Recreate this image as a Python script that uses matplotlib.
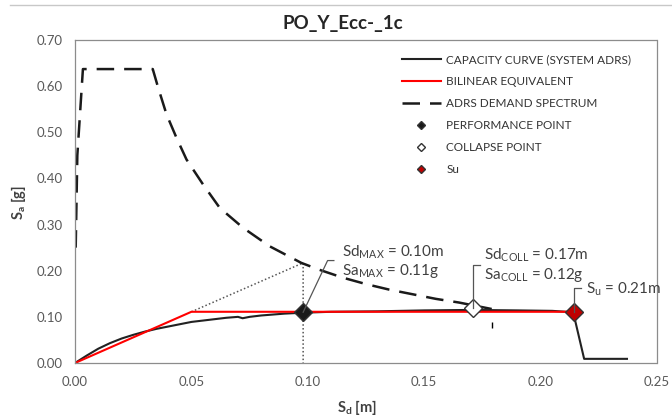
import matplotlib
matplotlib.use("Agg")
import matplotlib.pyplot as plt
from matplotlib.lines import Line2D

plt.rcParams['font.family'] = ['Lato', 'DejaVu Sans']

# capacity curve (system ADRS)
cap_sd = [0.0, 0.005, 0.01, 0.015, 0.02, 0.025, 0.03, 0.035, 0.04, 0.045, 0.05, 0.055,
          0.06, 0.065, 0.07, 0.072, 0.075, 0.08, 0.09, 0.098, 0.11, 0.13, 0.15, 0.17,
          0.19, 0.205, 0.214, 0.2187, 0.2371]
cap_sa = [0.0, 0.016, 0.031, 0.043, 0.053, 0.061, 0.068, 0.074, 0.079, 0.084, 0.089, 0.092,
          0.095, 0.098, 0.1, 0.097, 0.1, 0.103, 0.107, 0.109, 0.111, 0.112, 0.114, 0.115,
          0.114, 0.113, 0.11, 0.009, 0.009]

# bilinear equivalent
bil_sd = [0.0, 0.05, 0.214]
bil_sa = [0.0, 0.111, 0.111]

# ADRS demand spectrum
adrs_sd = [0.0003, 0.001, 0.0034, 0.0334, 0.0357, 0.0393, 0.0436, 0.0479, 0.055, 0.0622,
           0.0722, 0.0836, 0.0972, 0.105, 0.115, 0.125, 0.135, 0.145, 0.155, 0.165, 0.171, 0.179]
adrs_sa = [0.25, 0.45, 0.637, 0.637, 0.597, 0.539, 0.488, 0.441, 0.387, 0.336,
           0.293, 0.253, 0.217, 0.202, 0.185, 0.171, 0.159, 0.149, 0.139, 0.131, 0.125, 0.117]

# points
perf_sd, perf_sa = 0.098, 0.11
coll_sd, coll_sa = 0.171, 0.12
su_sd, su_sa = 0.2144, 0.11
mark_sd, mark_sa = 0.179, 0.083

fig = plt.figure(figsize=(6.72, 4.18), dpi=100)
ax = fig.add_axes([75 / 672, 1 - 363 / 418, 582 / 672, 323 / 418])

# construction lines for the performance point
ax.plot([bil_sd[1], perf_sd, perf_sd], [bil_sa[1], 0.217, 0.0],
        color='#555555', lw=1.1, ls=(0, (1, 1.5)))

ax.plot(adrs_sd, adrs_sa, color='#1a1a1a', lw=1.8, ls=(0, (7, 4)), label='ADRS DEMAND SPECTRUM')
ax.plot(cap_sd, cap_sa, color='#222222', lw=1.5, label='CAPACITY CURVE (SYSTEM ADRS)')
ax.plot(bil_sd, bil_sa, color='#ff0000', lw=1.5, label='BILINEAR EQUIVALENT')
ax.plot([mark_sd], [mark_sa], marker='|', color='black', ms=5, ls='none')

ax.plot([perf_sd], [perf_sa], marker='D', ms=9, color='#1a1a1a', mec='#333333', ls='none',
        label='PERFORMANCE POINT')
ax.plot([coll_sd], [coll_sa], marker='D', ms=9, color='white', mec='#333333', ls='none',
        label='COLLAPSE POINT')
ax.plot([su_sd], [su_sa], marker='D', ms=9, color='#c00000', mec='#333333', ls='none', label='Su')

# callouts
lc = '#555555'
tc = '#404040'
ax.plot([perf_sd, 0.1085, 0.1112], [perf_sa, 0.222, 0.222], color=lc, lw=0.9)
ax.text(0.1145, 0.241, r'Sd$_{\mathregular{MAX}}$ = 0.10m', fontsize=11, color=tc, va='center')
ax.text(0.1145, 0.199, r'Sa$_{\mathregular{MAX}}$ = 0.11g', fontsize=11, color=tc, va='center')

ax.plot([coll_sd, coll_sd, 0.1738], [coll_sa, 0.213, 0.213], color=lc, lw=0.9)
ax.text(0.1755, 0.233, r'Sd$_{\mathregular{COLL}}$ = 0.17m', fontsize=11, color=tc, va='center')
ax.text(0.1755, 0.19, r'Sa$_{\mathregular{COLL}}$ = 0.12g', fontsize=11, color=tc, va='center')

ax.plot([su_sd, su_sd, 0.2172], [su_sa, 0.163, 0.163], color=lc, lw=0.9)
ax.text(0.2195, 0.159, r'S$_{\mathregular{u}}$ = 0.21m', fontsize=11, color=tc, va='center')

ax.set_xlim(0, 0.25)
ax.set_ylim(0, 0.70)
ax.set_xticks([0, 0.05, 0.10, 0.15, 0.20, 0.25])
ax.set_xticklabels(['0.00', '0.05', '0.10', '0.15', '0.20', '0.25'])
ax.set_yticks([0, 0.1, 0.2, 0.3, 0.4, 0.5, 0.6, 0.7])
ax.set_yticklabels(['0.00', '0.10', '0.20', '0.30', '0.40', '0.50', '0.60', '0.70'])
ax.tick_params(length=0, labelsize=9.5, colors='#595959', pad=9)
for s in ax.spines.values():
    s.set_linestyle((0, (1, 1)))
    s.set_color('#8c8c8c')
    s.set_linewidth(0.9)

ax.set_xlabel(r'S$_{\mathregular{d}}$ [m]', fontsize=10.5, fontweight='bold', color='#404040')
ax.xaxis.set_label_coords((357 - 75) / 582, -(398 - 363) / 323)
ax.set_ylabel(r'S$_{\mathregular{a}}$ [g]', fontsize=10.5, fontweight='bold', color='#404040')
ax.yaxis.set_label_coords(-(75 - 28) / 582, (363 - 202) / 323)
ax.set_title('PO_Y_Ecc-_1c', fontsize=13.5, fontweight='bold', color='#262626', pad=8,
             x=(343 - 75) / 582)

handles, labels = ax.get_legend_handles_labels()
order = ['CAPACITY CURVE (SYSTEM ADRS)', 'BILINEAR EQUIVALENT', 'ADRS DEMAND SPECTRUM',
         'PERFORMANCE POINT', 'COLLAPSE POINT', 'Su']
hmap = dict(zip(labels, handles))
leg = ax.legend([hmap[k] for k in order], order, loc='upper left', frameon=False,
                fontsize=8.5, labelcolor='#333333', markerscale=0.5, handlelength=3.3,
                handletextpad=0.45, labelspacing=0.93, borderpad=0, borderaxespad=0,
                bbox_to_anchor=((402 - 75) / 582, (363 - 54) / 323))

fig.add_artist(Line2D([10 / 672, 1], [1 - 5 / 418, 1 - 5 / 418], color='#c8c8c8', lw=1))

fig.savefig('out.png', dpi=100)
